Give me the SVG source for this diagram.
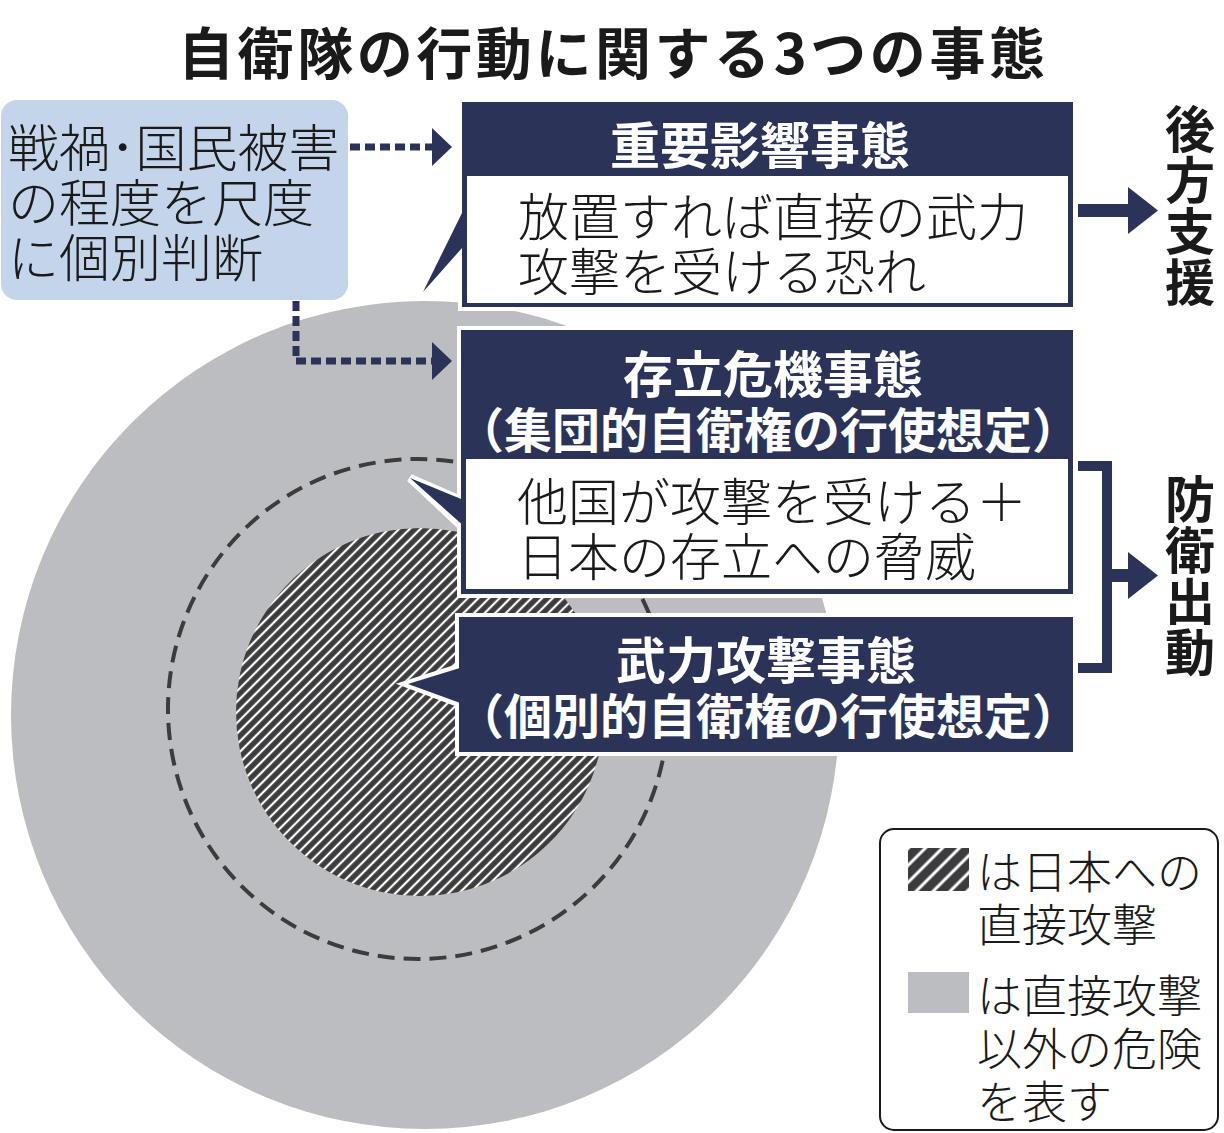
<svg xmlns="http://www.w3.org/2000/svg" width="1224" height="1133" viewBox="0 0 1224 1133">
<style>
.t{font-family:"Noto Sans CJK JP","Noto Sans CJK SC",sans-serif;}
.lt{font-weight:300;fill:#1a1a1a;}
.bd{font-weight:700;}
.wh{fill:#ffffff;}
.hd{font-feature-settings:"halt";}
.vt{writing-mode:vertical-rl;text-orientation:upright;letter-spacing:1px;}
.navy{fill:#2b3458;}
.dash{fill:none;stroke:#2b3458;stroke-width:7;stroke-dasharray:10 5;}
</style>
<defs>
<pattern id="hatch" width="7.5" height="7.5" patternUnits="userSpaceOnUse" patternTransform="rotate(45)">
<rect width="7.5" height="7.5" fill="#3c3c3e"/>
<line x1="3.75" y1="0" x2="3.75" y2="7.5" stroke="#ffffff" stroke-width="2.2"/>
</pattern>
<pattern id="hatch2" width="12" height="12" patternUnits="userSpaceOnUse" patternTransform="rotate(45)">
<rect width="12" height="12" fill="#3c3c3e"/>
<line x1="6" y1="0" x2="6" y2="12" stroke="#ffffff" stroke-width="3"/>
</pattern>
</defs>
<rect width="1224" height="1133" fill="#ffffff"/>

<g id="circles">
<circle cx="425" cy="715" r="414" fill="#bcbdc0"/>
<circle cx="418" cy="709" r="250" fill="none" stroke="#3c3c3e" stroke-width="4" stroke-dasharray="17 9"/>
<circle cx="420" cy="712" r="184" fill="url(#hatch)"/>
</g>

<text id="title" class="t bd" x="178" y="74" font-size="56" fill="#1a1a1a" textLength="867">自衛隊の行動に関する3つの事態</text>

<g id="judge">
<rect x="1" y="100" width="347" height="200" rx="16" fill="#c4d4ea"/>
<text class="t lt" font-size="51"><tspan x="8" y="167">戦禍･国民被害</tspan><tspan x="8" y="222">の程度を尺度</tspan><tspan x="8" y="277">に個別判断</tspan></text>
</g>

<g id="connectors">
<line class="dash" x1="350" y1="147" x2="434" y2="147"/>
<polygon class="navy" points="432,128 452,147 432,166"/>
<polyline class="dash" points="296,301 296,361 434,361"/>
<polygon class="navy" points="432,342 452,361 432,380"/>
<rect class="navy" x="1078" y="204" width="52" height="13"/>
<polygon class="navy" points="1128,187 1158,210.5 1128,234"/>
<polyline points="1078,466 1107,466 1107,668 1078,668" fill="none" stroke="#2b3458" stroke-width="10"/>
<rect class="navy" x="1107" y="569" width="23" height="13"/>
<polygon class="navy" points="1128,552 1158,575.5 1128,599"/>
</g>

<g id="box1">
<rect x="462" y="102" width="611" height="205" fill="#ffffff" stroke="#ffffff" stroke-width="8"/>
<polygon class="navy" points="462,213 423,292 462,248"/>
<rect class="navy" x="462" y="102" width="611" height="205"/>
<rect x="467" y="176" width="601" height="127" fill="#ffffff"/>
<text class="t bd wh" x="760" y="164" font-size="50" text-anchor="middle">重要影響事態</text>
<text class="t lt" font-size="51"><tspan x="518" y="236">放置すれば直接の武力</tspan><tspan x="518" y="291">攻撃を受ける恐れ</tspan></text>
</g>

<g id="box2">
<polygon points="463,501 410,478 463,528" fill="#ffffff" stroke="#ffffff" stroke-width="8" stroke-linejoin="miter"/>
<rect x="461" y="330" width="612" height="264" fill="#ffffff" stroke="#ffffff" stroke-width="8"/>
<rect class="navy" x="461" y="330" width="612" height="264"/>
<polygon class="navy" points="466,501 410,478 466,528"/>
<rect x="466" y="459" width="602" height="130" fill="#ffffff"/>
<text class="t bd wh" x="773" y="393" font-size="50" text-anchor="middle">存立危機事態</text>
<text class="t bd wh hd" x="768" y="448" font-size="48" text-anchor="middle">（集団的自衛権の行使想定）</text>
<text class="t lt" font-size="51"><tspan x="517" y="521">他国が攻撃を受ける＋</tspan><tspan x="517" y="576">日本の存立への脅威</tspan></text>
</g>

<g id="box3">
<polygon points="461,667 408,684 461,704" fill="#ffffff" stroke="#ffffff" stroke-width="8" stroke-linejoin="miter"/>
<rect x="459" y="617" width="614" height="135" fill="#ffffff" stroke="#ffffff" stroke-width="8"/>
<rect class="navy" x="459" y="617" width="614" height="135"/>
<polygon class="navy" points="463,667 408,684 463,704"/>
<text class="t bd wh" x="766" y="679" font-size="50" text-anchor="middle">武力攻撃事態</text>
<text class="t bd wh hd" x="768" y="734" font-size="48" text-anchor="middle">（個別的自衛権の行使想定）</text>
</g>

<g id="label-koho">
<text class="t bd vt" x="1190" y="104" font-size="50" fill="#1a1a1a">後方支援</text>
</g>
<g id="label-boei">
<text class="t bd vt" x="1190" y="474" font-size="50" fill="#1a1a1a">防衛出動</text>
</g>

<g id="legend">
<rect x="880" y="829" width="338" height="301" rx="14" fill="#ffffff" stroke="#1a1a1a" stroke-width="2"/>
<rect x="908" y="848" width="61" height="43" fill="url(#hatch2)"/>
<rect x="908" y="972" width="61" height="41" fill="#bcbdc0"/>
<text class="t lt" font-size="45"><tspan x="977" y="889">は日本への</tspan><tspan x="977" y="942">直接攻撃</tspan><tspan x="977" y="1013">は直接攻撃</tspan><tspan x="977" y="1066">以外の危険</tspan><tspan x="977" y="1119">を表す</tspan></text>
</g>
</svg>
